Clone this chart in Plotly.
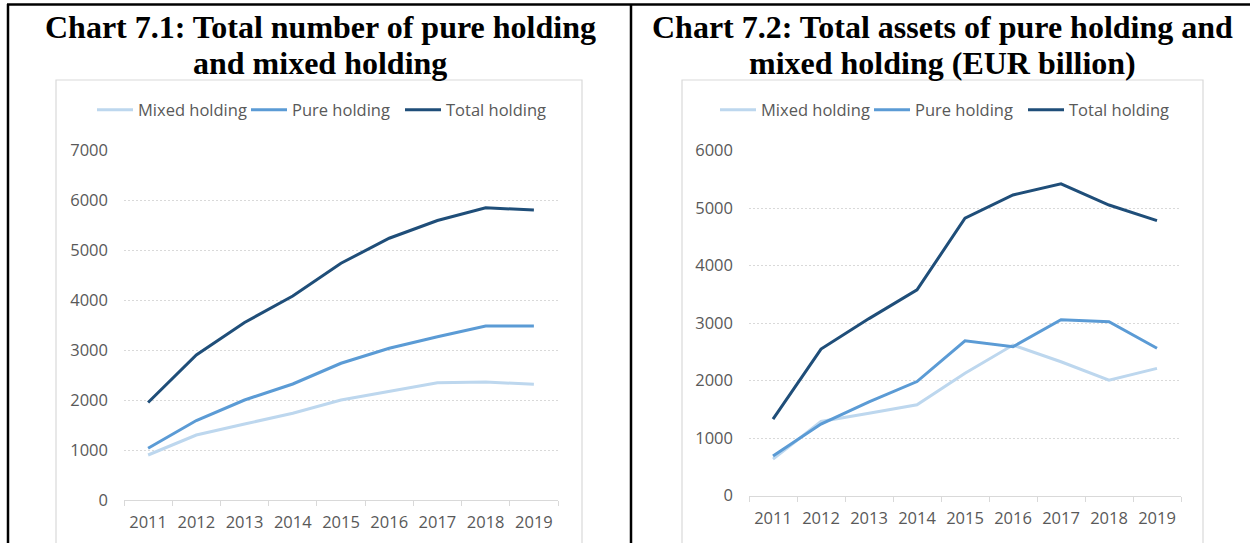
import plotly.graph_objects as go

W, H = 1250, 543

years = ["2011", "2012", "2013", "2014", "2015", "2016", "2017", "2018", "2019"]

# Chart 7.1: number of holdings
count_mixed = [900, 1300, 1520, 1735, 2000, 2180, 2345, 2360, 2315]
count_pure = [1035, 1590, 2000, 2320, 2735, 3035, 3265, 3480, 3480]
count_total = [1950, 2900, 3550, 4080, 4735, 5235, 5590, 5845, 5800]

# Chart 7.2: total assets (EUR billion)
assets_mixed = [635, 1290, 1435, 1580, 2130, 2620, 2330, 2010, 2215]
assets_pure = [690, 1245, 1630, 1985, 2695, 2590, 3060, 3025, 2565]
assets_total = [1330, 2550, 3080, 3580, 4825, 5230, 5425, 5055, 4785]

names = ["Mixed holding", "Pure holding", "Total holding"]
colors = ["#BDD7EE", "#5B9BD5", "#1F4E79"]

titles_left = ["Chart 7.1: Total number of pure holding", "and mixed holding"]
titles_right = ["Chart 7.2: Total assets of pure holding and", "mixed holding (EUR billion)"]

def px(x):
    return x / W

def py(y):
    return 1 - y / H

fig = go.Figure()

for name, vals, col in zip(names, [count_mixed, count_pure, count_total], colors):
    fig.add_trace(go.Scatter(x=years, y=vals, mode="lines", name=name,
                             line=dict(color=col, width=3),
                             xaxis="x", yaxis="y", legend="legend"))
for name, vals, col in zip(names, [assets_mixed, assets_pure, assets_total], colors):
    fig.add_trace(go.Scatter(x=years, y=vals, mode="lines", name=name,
                             line=dict(color=col, width=3),
                             xaxis="x2", yaxis="y2", legend="legend2"))

tickfont = dict(family="Open Sans", size=16.5, color="#595959")
grid = "#D9D9D9"

xcommon = dict(type="category", range=[-0.5, 8.5], tickson="boundaries",
               ticks="outside", ticklen=5, tickcolor=grid, showline=True,
               linecolor=grid, linewidth=1, showgrid=False, tickfont=tickfont,
               ticklabelstandoff=7, fixedrange=True)
ycommon = dict(showgrid=True, gridcolor=grid, griddash="2px,2px", gridwidth=1,
               zeroline=False, showline=False, ticks="", tickfont=tickfont,
               ticklabelstandoff=15, fixedrange=True)

legcommon = dict(orientation="h", xanchor="left", yanchor="middle",
                 font=dict(family="Open Sans", size=16.5, color="#595959"),
                 bgcolor="rgba(0,0,0,0)", itemwidth=36, tracegroupgap=0,
                 entrywidth=103)

fig.update_layout(
    width=W, height=H,
    margin=dict(l=0, r=0, t=0, b=0, autoexpand=False),
    paper_bgcolor="white", plot_bgcolor="white",
    showlegend=True,
    xaxis=dict(domain=[px(124), px(558)], anchor="y", **xcommon),
    yaxis=dict(domain=[py(500), py(150)], anchor="x", range=[0, 7000], dtick=1000, **ycommon),
    xaxis2=dict(domain=[px(749), px(1181)], anchor="y2", **xcommon),
    yaxis2=dict(domain=[py(495.7), py(150.7)], anchor="x2", range=[0, 6000], dtick=1000, **ycommon),
    legend=dict(x=px(92), y=py(110), **legcommon),
    legend2=dict(x=px(715), y=py(110), **legcommon),
)

shapes = []
# grey chart frames
for x0, x1 in [(56, 582), (682, 1203)]:
    shapes.append(dict(type="rect", xref="paper", yref="paper", x0=px(x0), x1=px(x1),
                       y0=-0.05, y1=py(80), line=dict(color="#D9D9D9", width=1.2),
                       fillcolor="rgba(0,0,0,0)", layer="below"))
# black table borders
shapes.append(dict(type="line", xref="paper", yref="paper", x0=px(7), x1=1.01,
                   y0=py(4.5), y1=py(4.5), line=dict(color="black", width=2.5)))
for xv in [8, 631]:
    shapes.append(dict(type="line", xref="paper", yref="paper", x0=px(xv), x1=px(xv),
                       y0=-0.01, y1=py(4), line=dict(color="black", width=2.5)))
fig.update_layout(shapes=shapes)

tfont = dict(family="Liberation Serif", size=32, color="black")
ann = []
for cx, lines in [(320, titles_left), (942, titles_right)]:
    for yy, t in zip([27, 63], lines):
        ann.append(dict(text="<b>" + t + "</b>", xref="paper", yref="paper",
                        x=px(cx), y=py(yy), xanchor="center", yanchor="middle",
                        showarrow=False, font=tfont))
fig.update_layout(annotations=ann)

fig.write_html("out.html", config={"responsive": False, "displayModeBar": False},
               post_script="document.body.style.margin='0';document.body.style.overflow='hidden';")
